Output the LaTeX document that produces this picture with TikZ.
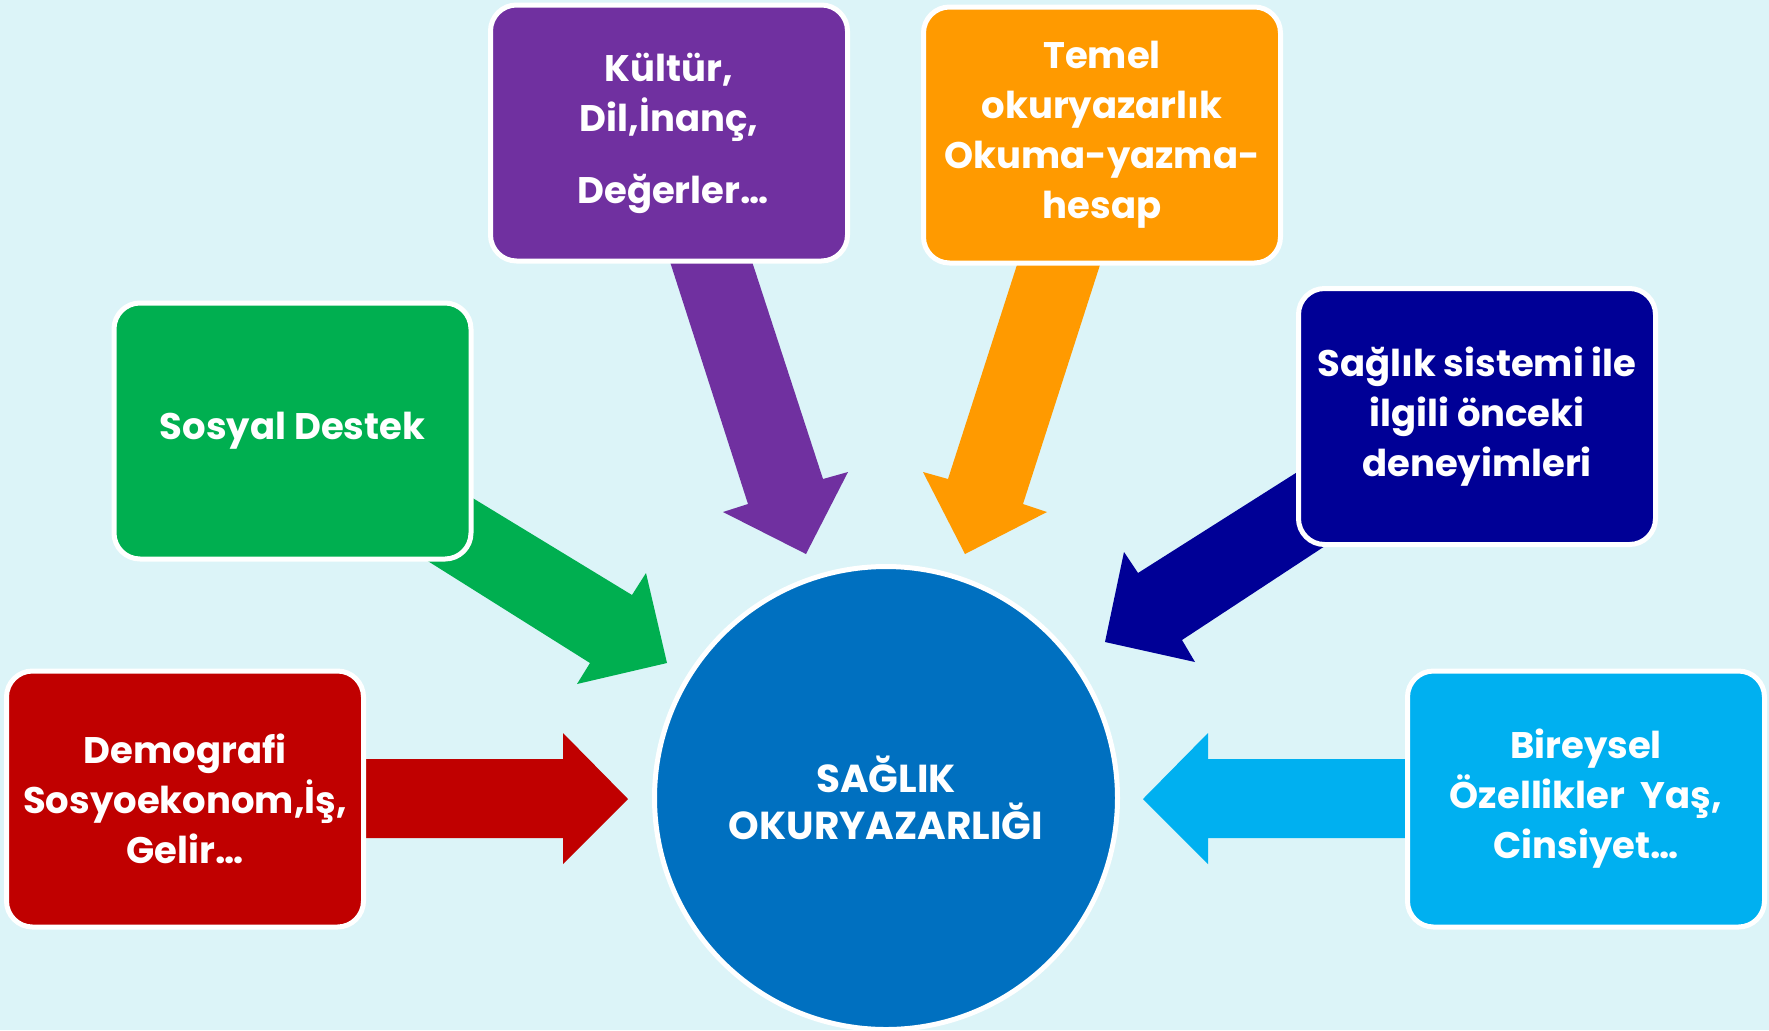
\documentclass[tikz,border=0pt]{standalone}
\usepackage{fontspec}
\setmainfont{Poppins}
\definecolor{bgc}{HTML}{DCF4F8}
\definecolor{cpurple}{HTML}{7030A0}
\definecolor{corange}{HTML}{FF9A00}
\definecolor{cgreen}{HTML}{00AF50}
\definecolor{cnavy}{HTML}{000096}
\definecolor{cred}{HTML}{C00000}
\definecolor{cltblue}{HTML}{00B0F0}
\definecolor{ccircle}{HTML}{0070C0}
\begin{document}
\begin{tikzpicture}[x=0.5pt,y=-0.5pt,
  box/.style={rounded corners=13pt, draw=white, line width=2.5pt,
    minimum width=178.5pt, minimum height=128pt, text=white,
    font=\bfseries\fontsize{18.5}{25}\selectfont, align=center,
    inner sep=0pt, outer sep=0pt},
  hub/.style={circle, draw=white, line width=2.5pt, minimum size=231.5pt,
    text=white, font=\bfseries\fontsize{19.5}{23.5}\selectfont, align=center,
    inner sep=0pt, outer sep=0pt}]
\fill[bgc] (0,0) rectangle (1769,1030);
\useasboundingbox (0,0) rectangle (1769,1030);
% block arrows (behind the boxes)
\fill[cgreen] (420,466) -- (632,595) -- (646,573) -- (667,663) -- (577,684) -- (590,663) -- (380,531) -- cycle;
\fill[cnavy] (1340,445) -- (1138,573) -- (1124,552) -- (1105,642) -- (1195,662) -- (1182,640) -- (1360,523) -- cycle;
\fill[cpurple] (663,240) -- (745,240) -- (823,479) -- (848,472) -- (806,554) -- (723,512) -- (748,504) -- cycle;
\fill[corange] (1025,240) -- (1108,240) -- (1023,504) -- (1047,512) -- (965,554) -- (923,472) -- (948,479) -- cycle;
\fill[cred] (340,759) -- (563,759) -- (563,733) -- (628,799) -- (563,864) -- (563,838) -- (340,838) -- cycle;
\fill[cltblue] (1430,759) -- (1208,759) -- (1208,733) -- (1143,799) -- (1208,864) -- (1208,838) -- (1430,838) -- cycle;
% boxes
\node[box, fill=cpurple] (kultur) at (669,133) {K\"ult\"ur,\\Dil,\.Inan\c{c},\\[11pt]\ Değerler…};
\node[box, fill=corange] (temel) at (1102,135) {Temel\\okuryazarlık\\Okuma-yazma-\\hesap};
\node[box, fill=cgreen] (sosyal) at (292.5,431) {Sosyal Destek};
\node[box, fill=cnavy] (saglik) at (1477,416.5) {Sağlık sistemi ile\\ilgili önceki\\deneyimleri};
\node[box, fill=cred] (demo) at (185,799) {Demografi\\Sosyoekonom,İş,\\Gelir…};
\node[box, fill=cltblue] (birey) at (1586,799) {Bireysel\\Özellikler\ \ Yaş,\\Cinsiyet…};
% hub
\node[hub, fill=ccircle] (hub) at (886,798) {SAĞLIK\\OKURYAZARLIĞI};
\end{tikzpicture}
\end{document}
